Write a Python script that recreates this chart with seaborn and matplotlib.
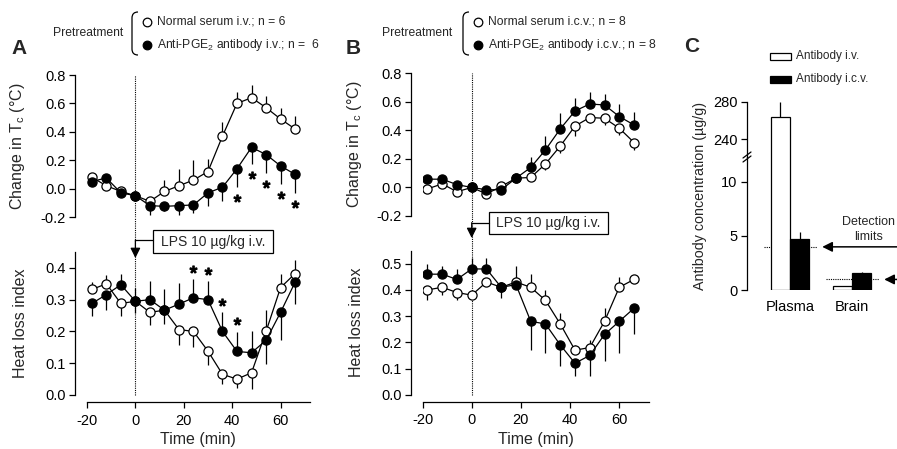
import numpy as np
import pandas as pd
import matplotlib
matplotlib.use('Agg')
import matplotlib.pyplot as plt
from matplotlib.patches import Rectangle, PathPatch
from matplotlib.path import Path
import seaborn as sns

# ---- data ----
time_min = [-18, -12, -6, 0, 6, 12, 18, 24, 30, 36, 42, 48, 54, 60, 66]

# panel A, change in Tc
a_tc_serum = [0.08, 0.02, -0.02, -0.05, -0.09, -0.02, 0.02, 0.06, 0.12, 0.37, 0.60, 0.64, 0.57, 0.49, 0.42]
a_tc_serum_err = [0.01, 0.01, 0.01, 0.01, 0.01, 0.08, 0.12, 0.14, 0.09, 0.10, 0.08, 0.09, 0.08, 0.08, 0.09]
a_tc_anti = [0.05, 0.075, -0.03, -0.05, -0.12, -0.125, -0.12, -0.115, -0.03, 0.01, 0.14, 0.29, 0.24, 0.16, 0.10]
a_tc_anti_err = [-0.01, -0.01, -0.01, -0.01, -0.065, -0.03, -0.065, -0.06, -0.09, -0.10, -0.13, -0.12, -0.13, -0.13, -0.13]
a_tc_stars = [42, 48, 54, 60, 66]

# panel A, heat loss index
a_hl_serum = [0.332, 0.35, 0.288, 0.295, 0.26, 0.267, 0.206, 0.20, 0.138, 0.065, 0.05, 0.07, 0.20, 0.338, 0.382]
a_hl_serum_err = [0.024, 0.027, -0.04, -0.038, -0.039, -0.044, -0.05, -0.05, -0.043, -0.03, -0.028, -0.05, 0.068, 0.044, 0.042]
a_hl_anti = [0.288, 0.316, 0.347, 0.295, 0.30, 0.267, 0.286, 0.306, 0.30, 0.20, 0.137, 0.133, 0.172, 0.26, 0.355]
a_hl_anti_err = [-0.04, -0.05, 0.035, 0.042, 0.058, 0.068, 0.066, 0.058, 0.058, 0.06, 0.062, 0.068, -0.076, -0.087, -0.068]
a_hl_stars = [24, 30, 36, 42]

# panel B, change in Tc
b_tc_serum = [-0.01, 0.025, -0.03, 0.0, -0.045, 0.007, 0.065, 0.07, 0.165, 0.29, 0.43, 0.49, 0.485, 0.415, 0.315]
b_tc_serum_err = [-0.02, -0.01, -0.01, -0.01, -0.02, -0.01, -0.01, -0.02, -0.04, -0.05, -0.07, -0.04, -0.05, -0.05, -0.05]
b_tc_anti = [0.058, 0.058, 0.02, 0.0, -0.016, -0.016, 0.065, 0.14, 0.264, 0.41, 0.536, 0.585, 0.578, 0.497, 0.438]
b_tc_anti_err = [0.01, 0.01, 0.01, 0.01, 0.01, 0.01, 0.02, 0.075, 0.10, 0.11, 0.09, 0.085, 0.08, 0.09, 0.09]

# panel B, heat loss index
b_hl_serum = [0.40, 0.41, 0.39, 0.38, 0.43, 0.41, 0.43, 0.41, 0.36, 0.27, 0.17, 0.18, 0.28, 0.41, 0.44]
b_hl_serum_err = [-0.04, -0.03, -0.03, -0.01, 0.01, 0.02, 0.02, 0.05, 0.04, 0.04, 0.02, 0.03, 0.05, 0.04, 0.01]
b_hl_anti = [0.46, 0.46, 0.44, 0.48, 0.48, 0.41, 0.42, 0.28, 0.27, 0.19, 0.12, 0.15, 0.23, 0.28, 0.33]
b_hl_anti_err = [0.04, 0.03, 0.04, 0.04, 0.04, -0.04, 0.07, -0.11, -0.11, -0.08, -0.05, -0.08, -0.10, -0.12, -0.10]

# panel C, antibody concentration (ug/g)
tissues = ['Plasma', 'Brain']
routes = ['Antibody i.v.', 'Antibody i.c.v.']
conc_iv = [264, 0.4]
conc_icv = [4.7, 1.6]
err_iv = [15.4, 0.0]
err_icv = [0.7, 0.12]
detection_limits = [4.0, 1.0]

# ---- figure layout (pixel based) ----
W, H = 897, 449
sns.set_style('ticks')
plt.rcParams['font.family'] = ['Liberation Sans', 'DejaVu Sans']
plt.rcParams['mathtext.fontset'] = 'custom'
plt.rcParams['mathtext.rm'] = 'Liberation Sans'
plt.rcParams['axes.unicode_minus'] = False
plt.rcParams['axes.linewidth'] = 0.9
plt.rcParams['xtick.major.width'] = 0.9
plt.rcParams['ytick.major.width'] = 0.9
plt.rcParams['xtick.major.size'] = 4.3
plt.rcParams['ytick.major.size'] = 4.3
plt.rcParams['xtick.labelsize'] = 10.5
plt.rcParams['ytick.labelsize'] = 10.5
plt.rcParams['xtick.color'] = 'black'
plt.rcParams['ytick.color'] = 'black'
plt.rcParams['axes.edgecolor'] = 'black'

fig = plt.figure(figsize=(W / 100, H / 100), dpi=100)


def rect(left, top, right, bottom):
    return [left / W, 1 - bottom / H, (right - left) / W, (bottom - top) / H]


def draw_series(ax, mean, err, filled):
    mean = np.asarray(mean)
    err = np.asarray(err)
    ax.vlines(time_min, mean, mean + err, color='black', lw=0.9, zorder=2)
    df = pd.DataFrame({'t': time_min, 'y': mean})
    sns.lineplot(data=df, x='t', y='y', ax=ax, color='black', lw=0.9,
                 marker='o', markersize=6.6,
                 markerfacecolor='black' if filled else 'white',
                 markeredgecolor='black', markeredgewidth=0.9, zorder=3)


def setup_axis(ax, ylim, yticks, left_px, show_x, ylabel, label_px):
    ax.set_xlim(-20, 72)
    ax.set_ylim(*ylim)
    ax.set_yticks(yticks)
    ax.yaxis.set_major_formatter(lambda v, p: f'{v:.1f}')
    sns.despine(ax=ax, bottom=not show_x)
    ax.spines['left'].set_position(('outward', left_px * 0.72))
    if show_x:
        ax.spines['bottom'].set_position(('outward', 7 * 0.72))
        ax.spines['bottom'].set_bounds(-20, 72)
        ax.set_xticks([-20, 0, 20, 40, 60])
        ax.set_xlabel('Time (min)', fontsize=11.5)
        ax.xaxis.set_label_coords(0.5, -0.26)
    else:
        ax.set_xticks([])
        ax.set_xlabel('')
    ax.tick_params(axis='x', pad=4)
    ax.tick_params(axis='y', pad=2.5)
    ax.set_ylabel(ylabel, fontsize=11.5)
    ax.yaxis.set_label_coords(label_px, 0.5)
    ax.patch.set_alpha(0)


def zero_line(ax_top, ax_bot):
    ax_top.plot([0, 0], list(ax_top.get_ylim()), color='black', lw=0.8,
                ls=(0, (1, 1)), zorder=1)
    low = ax_top.get_ylim()[0]
    y_join = ax_bot.transData.inverted().transform(
        ax_top.transData.transform((0, low)))[1]
    ax_bot.plot([0, 0], [0, y_join], color='black', lw=0.8, ls=(0, (1, 1)),
                zorder=1, clip_on=False)


def stars(ax, ts, mean, err, offset):
    mean = np.asarray(mean)
    err = np.asarray(err)
    idx = [time_min.index(t) for t in ts]
    ys = mean[idx] + err[idx] + offset
    ax.plot(ts, ys, ls='none', marker='$*$', markersize=5, color='black')


tc_label = 'Change in T$_\\mathregular{c}$ (\u00b0C)'
hl_label = 'Heat loss index'

# panel A
ax_a1 = fig.add_axes(rect(87, 75, 309.6, 217))
ax_a2 = fig.add_axes(rect(87, 252, 309.6, 395))
draw_series(ax_a1, a_tc_serum, a_tc_serum_err, False)
draw_series(ax_a1, a_tc_anti, a_tc_anti_err, True)
draw_series(ax_a2, a_hl_serum, a_hl_serum_err, False)
draw_series(ax_a2, a_hl_anti, a_hl_anti_err, True)
setup_axis(ax_a1, (-0.2, 0.8), [-0.2, 0.0, 0.2, 0.4, 0.6, 0.8], 12, False, tc_label, (27 - 87) / 222.6)
setup_axis(ax_a2, (0, 0.45), [0.0, 0.1, 0.2, 0.3, 0.4], 12, True, hl_label, (28 - 87) / 222.6)
stars(ax_a1, a_tc_stars, a_tc_anti, a_tc_anti_err, -0.075)
stars(ax_a2, a_hl_stars, a_hl_anti, a_hl_anti_err, 0.033)
zero_line(ax_a1, ax_a2)

# panel B
ax_b1 = fig.add_axes(rect(422.5, 73.3, 648.8, 216))
ax_b2 = fig.add_axes(rect(422.5, 250.6, 648.8, 394.7))
draw_series(ax_b1, b_tc_serum, b_tc_serum_err, False)
draw_series(ax_b1, b_tc_anti, b_tc_anti_err, True)
draw_series(ax_b2, b_hl_serum, b_hl_serum_err, False)
draw_series(ax_b2, b_hl_anti, b_hl_anti_err, True)
setup_axis(ax_b1, (-0.2, 0.8), [-0.2, 0.0, 0.2, 0.4, 0.6, 0.8], 11.5, False, tc_label, (364 - 422.5) / 226.3)
setup_axis(ax_b2, (0, 0.55), [0.0, 0.1, 0.2, 0.3, 0.4, 0.5], 11.5, True, hl_label, (364 - 422.5) / 226.3)
zero_line(ax_b1, ax_b2)

# panel C (broken y axis)
bar_df = pd.DataFrame({
    'tissue': tissues * 2,
    'route': [routes[0]] * 2 + [routes[1]] * 2,
    'conc': conc_iv + conc_icv,
})
bar_width = 0.62
ax_c_top = fig.add_axes(rect(747, 101.7, 897, 156.7))
ax_c_bot = fig.add_axes(rect(747, 156.7, 897, 290.3))
for ax in (ax_c_top, ax_c_bot):
    sns.barplot(data=bar_df, x='tissue', y='conc', hue='route',
                palette={routes[0]: 'white', routes[1]: 'black'},
                edgecolor='black', linewidth=0.9, width=bar_width,
                saturation=1, errorbar=None, legend=False, ax=ax, zorder=3)
    for i in range(len(tissues)):
        for shift, val, e in ((-bar_width / 4, conc_iv[i], err_iv[i]),
                              (bar_width / 4, conc_icv[i], err_icv[i])):
            if e > 0:
                ax.vlines(i + shift, val, val + e, color='black', lw=0.9, zorder=2)
    ax.set_xlim(-0.694, 1.726)
    ax.set_xlabel('')
    ax.set_ylabel('')
    ax.patch.set_alpha(0)
    ax.tick_params(axis='y', pad=2.5)
    sns.despine(ax=ax, bottom=True)

ax_c_top.set_ylim(221.5, 280)
ax_c_top.set_yticks([240, 280])
ax_c_top.set_xticks([])
ax_c_bot.set_ylim(0, 12.3)
ax_c_bot.set_yticks([0, 5, 10])
ax_c_bot.tick_params(axis='x', length=0, pad=7, labelsize=10.5)

for i, lim in enumerate(detection_limits):
    ax_c_bot.hlines(lim, i - 0.42, i + 0.44, color='black', lw=0.8,
                    ls=(0, (1, 1)), zorder=1)
    ax_c_bot.annotate('', xy=(i + 0.52, lim), xytext=(1.726, lim),
                      arrowprops=dict(arrowstyle='-|>,head_length=0.6,head_width=0.3',
                                      color='black', lw=1.1, shrinkA=0, shrinkB=0,
                                      mutation_scale=10),
                      annotation_clip=False)
ax_c_bot.text(1.26, 5.6, 'Detection\nlimits', ha='center', va='center',
              fontsize=9, linespacing=1.3)

# ---- overlay for headers, legends and LPS labels ----
ov = fig.add_axes([0, 0, 1, 1], zorder=10)
ov.set_xlim(0, W)
ov.set_ylim(H, 0)
ov.axis('off')
ov.patch.set_alpha(0)


def to_px(ax, x, y):
    return ov.transData.inverted().transform(ax.transData.transform((x, y)))


ov.text(19, 48, 'A', fontsize=15, fontweight='bold', ha='center', va='center')
ov.text(353, 48, 'B', fontsize=15, fontweight='bold', ha='center', va='center')
ov.text(692, 46, 'C', fontsize=15, fontweight='bold', ha='center', va='center')


def header(x_pre, x_br, lines):
    ov.text(x_pre, 33, 'Pretreatment', fontsize=8.7, ha='left', va='center')
    verts = [(x_br + 6, 12), (x_br, 12), (x_br, 18), (x_br, 49), (x_br, 55), (x_br + 6, 55)]
    codes = [Path.MOVETO, Path.CURVE3, Path.CURVE3, Path.LINETO, Path.CURVE3, Path.CURVE3]
    ov.add_patch(PathPatch(Path(verts, codes), fc='none', ec='black', lw=0.9))
    for (y, face, label) in lines:
        ov.plot(x_br + 15, y, 'o', ms=6.2, mfc=face, mec='black', mew=0.9)
        ov.text(x_br + 25, y, label, fontsize=8.7, ha='left', va='center')


header(53, 132, [(22, 'white', 'Normal serum i.v.; n = 6'),
                 (45, 'black', 'Anti-PGE$_\\mathregular{2}$ antibody i.v.; n =  6')])
header(382, 463, [(22, 'white', 'Normal serum i.c.v.; n = 8'),
                  (45, 'black', 'Anti-PGE$_\\mathregular{2}$ antibody i.c.v.; n = 8')])

# C legend
for y, face, label in ((56.5, 'white', routes[0]), (79, 'black', routes[1])):
    ov.add_patch(Rectangle((770, y - 3.5), 21, 7, fc=face, ec='black', lw=0.9))
    ov.text(796, y, label, fontsize=8.5, ha='left', va='center')

# C y label
ov.text(700, 196, 'Antibody concentration (\u00b5g/g)', fontsize=10.3,
        rotation=90, ha='center', va='center')

# broken-axis marks
for dy in (-2, 2):
    ov.plot([743, 751], [157 + dy + 3, 157 + dy - 3], color='black', lw=0.9)


def lps_box(ax, left, top, width, height, y_conn, y_tip):
    x0 = to_px(ax, 0, 0)[0]
    ov.add_patch(Rectangle((left, top), width, height, fc='white', ec='black', lw=0.9))
    ov.text(left + width / 2, top + height / 2 + 0.5, 'LPS 10 \u00b5g/kg i.v.',
            fontsize=10, ha='center', va='center')
    ov.plot([left, x0], [y_conn, y_conn], color='black', lw=0.9)
    ov.annotate('', xy=(x0, y_tip), xytext=(x0, y_conn),
                arrowprops=dict(arrowstyle='-|>,head_length=0.6,head_width=0.3',
                                color='black', lw=0.9, shrinkA=0, shrinkB=0,
                                mutation_scale=10))


lps_box(ax_a1, 153, 230, 120, 23, 240, 258)
lps_box(ax_b1, 489, 211.7, 118.7, 22.3, 222.7, 238)

fig.savefig('out.png', dpi=100)
